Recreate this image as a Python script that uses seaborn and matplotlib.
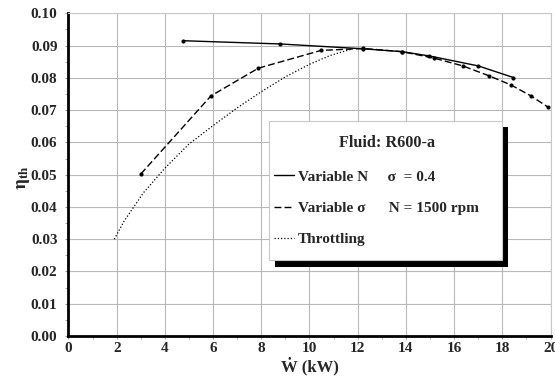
import matplotlib
matplotlib.use("Agg")
import matplotlib.pyplot as plt
import seaborn as sns
import pandas as pd
from matplotlib.patches import Rectangle
from matplotlib.ticker import FormatStrFormatter, MultipleLocator

# values
w_var_n = [4.76, 8.78, 12.23, 13.85, 14.96, 17.0, 18.46]
eta_var_n = [0.0915, 0.0905, 0.0890, 0.0881, 0.0868, 0.0837, 0.0801]

w_var_sigma = [3.0, 5.91, 7.88, 10.48, 12.23, 13.85, 15.17, 16.36, 17.46, 18.36, 19.19, 19.9]
eta_var_sigma = [0.0502, 0.0744, 0.0830, 0.0885, 0.0891, 0.0881, 0.0861, 0.0837, 0.0806, 0.0778, 0.0744, 0.0709]

w_throttle = [1.9, 2.3, 3.1, 4.0, 5.0, 6.0, 7.0, 8.0, 9.0, 10.0, 10.85, 11.7]
eta_throttle = [0.0300, 0.0355, 0.0443, 0.0520, 0.0595, 0.0652, 0.0707, 0.0757, 0.0803, 0.0842, 0.0869, 0.0888]

labels = ["Variable N     \u03c3  = 0.4",
          "Variable \u03c3      N = 1500 rpm",
          "Throttling"]
x_ticks = list(range(0, 21, 2))
y_ticks = [i / 100 for i in range(0, 11)]

sns.set_style("whitegrid")
plt.rcParams["font.family"] = ["Liberation Serif", "DejaVu Serif"]
plt.rcParams["font.weight"] = "bold"
plt.rcParams["mathtext.fontset"] = "stix"

fig = plt.figure(figsize=(5.55, 3.82), dpi=100)
ax = fig.add_axes([0.1234, 0.1204, 0.8685, 0.8448])

df_n = pd.DataFrame({"w": w_var_n, "eta": eta_var_n})
df_s = pd.DataFrame({"w": w_var_sigma, "eta": eta_var_sigma})
df_t = pd.DataFrame({"w": w_throttle, "eta": eta_throttle})

sns.lineplot(data=df_n, x="w", y="eta", ax=ax, color="black", lw=1.0,
             marker="o", markersize=3, markeredgewidth=0, sort=False, label=labels[0])
sns.lineplot(data=df_s, x="w", y="eta", ax=ax, color="black", lw=1.0,
             linestyle=(0, (5, 2.2)), marker="o", markersize=3, markeredgewidth=0,
             sort=False, label=labels[1])
sns.lineplot(data=df_t, x="w", y="eta", ax=ax, color="black", lw=0.9,
             linestyle=(0, (1, 1.6)), sort=False, label=labels[2])

ax.set_xlim(0, 20)
ax.set_ylim(0, 0.10)
ax.set_xticks(x_ticks)
ax.set_yticks(y_ticks)
ax.xaxis.set_minor_locator(MultipleLocator(1))
ax.yaxis.set_minor_locator(MultipleLocator(0.005))
ax.yaxis.set_major_formatter(FormatStrFormatter("%.2f"))
ax.grid(True, which="major", color="#b8b8b8", lw=0.8)
ax.tick_params(which="both", direction="out", length=2.5, color="#999999",
               labelsize=11, left=True, bottom=True)
ax.tick_params(axis="y", which="both", pad=5.5)
ax.tick_params(axis="x", which="both", pad=2)
for t in ax.get_xticklabels() + ax.get_yticklabels():
    t.set_fontweight("bold")

for side in ["left", "bottom"]:
    ax.spines[side].set_color("black")
    ax.spines[side].set_linewidth(2)
for side in ["top", "right"]:
    ax.spines[side].set_color("#c8c8c8")
    ax.spines[side].set_linewidth(0.8)

ax.set_xlabel("\u1e86 (kW)", fontsize=12, fontweight="bold", labelpad=1)
ax.set_ylabel(r"$\mathrm{\eta}_{\mathbf{th}}$", fontsize=13.5, rotation=90)
ax.yaxis.set_label_coords(-0.076, 0.49)

# legend box with hard black shadow
ax.add_patch(Rectangle((275 / 555, 1 - 267 / 382), 233 / 555, 140 / 382,
                       transform=fig.transFigure, facecolor="black",
                       edgecolor="none", zorder=4.8, clip_on=False))
ax.add_patch(Rectangle((269 / 555, 1 - 260 / 382), 233 / 555, 139 / 382,
                       transform=fig.transFigure, facecolor="white",
                       edgecolor="#c8c8c8", lw=0.8, zorder=4.9, clip_on=False))
fig.text(387.5 / 555, 1 - 143 / 382, "Fluid: R600-a", fontsize=11.7,
         fontweight="bold", ha="center", va="center", zorder=6)

leg = ax.legend(loc="center left", bbox_to_anchor=(274 / 555, 1 - 208 / 382),
                bbox_transform=fig.transFigure, frameon=False, fontsize=11,
                handlelength=1.3, handletextpad=0.25, labelspacing=1.15,
                borderpad=0, borderaxespad=0)
for h in leg.legend_handles:
    h.set_marker("")
for t in leg.get_texts():
    t.set_fontweight("bold")
leg.set_zorder(6)

fig.savefig("out.png", dpi=100)
